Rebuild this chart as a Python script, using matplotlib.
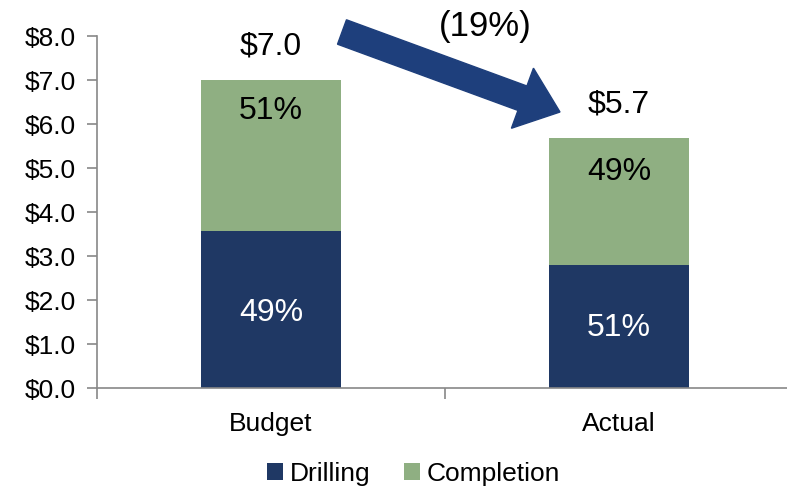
import matplotlib
matplotlib.use("Agg")
import matplotlib.pyplot as plt
from matplotlib.patches import FancyArrow
from matplotlib.transforms import IdentityTransform

plt.rcParams['font.family'] = ['Liberation Sans', 'DejaVu Sans']

categories = ["Budget", "Actual"]
drilling = [3.57, 2.80]
completion = [3.43, 2.88]
totals = ["$7.0", "$5.7"]
drill_pct = ["49%", "51%"]
comp_pct = ["51%", "49%"]
yticks = [0, 1, 2, 3, 4, 5, 6, 7, 8]

navy = "#1F3864"
green = "#8FAF82"

fig = plt.figure(figsize=(7.87, 4.86), dpi=100)
ax = fig.add_axes([97/787, 1-388/486, 696/787, 352/486])

x = list(range(len(categories)))
ax.bar(x, drilling, width=0.4, color=navy, label="Drilling")
ax.bar(x, completion, width=0.4, bottom=drilling, color=green, label="Completion")

# label offsets
drill_y = [1.70, 1.36]
comp_y = [6.29, 4.92]
total_y = [7.76, 6.45]
for i in x:
    ax.text(i, drill_y[i], drill_pct[i], ha="center", va="center",
            fontsize=23, color="white")
    ax.text(i, comp_y[i], comp_pct[i], ha="center", va="center",
            fontsize=23, color="black")
    ax.text(i, total_y[i], totals[i], ha="center", va="center", fontsize=23)

ax.text(0.615, 8.22, "(19%)", ha="center", va="center", fontsize=25, clip_on=False)

ax.set_xlim(-0.5, 1.5)
ax.set_ylim(0, 8)
ax.set_yticks(yticks)
ax.set_yticklabels(["$%.1f" % v for v in yticks], fontsize=19)
ax.set_xticks([-0.5, 0.5, 1.5])
ax.set_xticklabels([])
ax.set_xticks(x, minor=True)
ax.set_xticklabels(categories, minor=True, fontsize=19)
ax.tick_params(axis="x", which="minor", length=0, pad=17)
ax.tick_params(axis="x", which="major", length=8, color="#888888", width=1.2)
ax.tick_params(axis="y", length=7, color="#888888", width=1.2, pad=8)
for s in ["top", "right"]:
    ax.spines[s].set_visible(False)
for s in ["left", "bottom"]:
    ax.spines[s].set_color("#888888")
    ax.spines[s].set_linewidth(1.2)

# arrow in pixel coordinates
tail = (342, 486 - 32)
tip = (560, 486 - 112)
arr = FancyArrow(tail[0], tail[1], tip[0] - tail[0], tip[1] - tail[1],
                 width=26, head_width=64, head_length=40,
                 length_includes_head=True, color="#1E3F7C",
                 transform=IdentityTransform())
fig.add_artist(arr)

ax.legend(loc="center", bbox_to_anchor=(0.455, -0.243), ncol=2, frameon=False,
          fontsize=19, handlelength=0.6, handleheight=0.6, handletextpad=0.25,
          columnspacing=1.3)

fig.savefig("out.png", dpi=100)
